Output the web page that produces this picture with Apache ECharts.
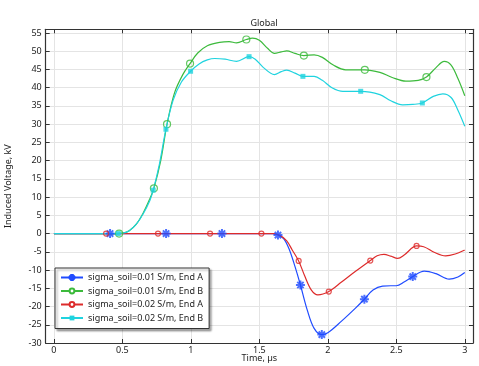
<!DOCTYPE html>
<html><head><meta charset="utf-8">
<script src="https://cdn.jsdelivr.net/npm/echarts@6/dist/echarts.min.js"></script>
<style>html,body{margin:0;padding:0;background:#fff}#c{width:479px;height:366px}</style>
</head><body><div id="c"></div>
<script>
// ---- data ----
const seriesNames = ['sigma_soil=0.01 S/m, End A','sigma_soil=0.01 S/m, End B','sigma_soil=0.02 S/m, End A','sigma_soil=0.02 S/m, End B'];
const xTickStep = 0.5;
const yTickStep = 5;

const curveA001 = [[0,0],[1.6,0],[1.636,-0.4],[1.68,-1.5],[1.72,-4.5],[1.76,-9],[1.8,-14.1],[1.85,-21],[1.9,-26],[1.956,-27.7],[2.0,-27.2],[2.1,-24],[2.2,-20.5],[2.267,-18.0],[2.33,-15.5],[2.4,-14.4],[2.46,-14.3],[2.5,-14.3],[2.56,-13.2],[2.62,-11.8],[2.704,-10.3],[2.79,-11],[2.886,-12.5],[2.95,-11.9],[3.0,-10.7]];
const curveB001 = [[0,0],[0.45,0],[0.5,0.1],[0.55,0.8],[0.6,2.5],[0.65,5.5],[0.7,9.5],[0.73,12.4],[0.78,20],[0.826,30],[0.88,38.5],[0.94,43.5],[0.994,46.6],[1.05,49.5],[1.12,51.5],[1.21,52.4],[1.28,52.6],[1.333,52.3],[1.405,53.2],[1.45,53.6],[1.5,53],[1.56,50.8],[1.61,49.4],[1.66,49.8],[1.7,50.1],[1.76,49.4],[1.825,48.8],[1.9,49.0],[1.96,48.3],[2.04,46.2],[2.13,44.9],[2.27,44.9],[2.38,44.2],[2.47,42.8],[2.57,41.8],[2.66,42],[2.72,42.9],[2.79,45.5],[2.85,47.2],[2.9,46.2],[2.95,42.5],[3.0,37.8]];
const curveA002 = [[0,0],[1.6,0],[1.65,-0.5],[1.7,-2],[1.74,-4.5],[1.787,-7.5],[1.83,-11.5],[1.88,-15.5],[1.927,-16.8],[2.007,-15.9],[2.1,-13.3],[2.2,-10.4],[2.31,-7.4],[2.36,-6.1],[2.41,-5.7],[2.46,-6.2],[2.51,-6.8],[2.56,-5.8],[2.648,-3.4],[2.7,-3.6],[2.78,-5.2],[2.86,-6.1],[2.93,-5.6],[3.0,-4.5]];
const curveB002 = [[0,0],[0.45,0],[0.5,0.1],[0.55,0.8],[0.6,2.5],[0.65,5.3],[0.7,9.0],[0.725,11.9],[0.77,19],[0.818,28.6],[0.87,36.5],[0.93,41.5],[0.998,44.5],[1.06,46.5],[1.12,47.6],[1.175,48.0],[1.25,47.8],[1.333,47.2],[1.425,48.5],[1.47,47.8],[1.53,45.5],[1.61,43.6],[1.66,44.4],[1.7,44.8],[1.76,44],[1.818,43.1],[1.9,43.1],[1.96,42],[2.03,40],[2.11,39.0],[2.24,39.0],[2.38,38.1],[2.46,36.4],[2.546,35.3],[2.62,35.4],[2.69,35.8],[2.77,37.6],[2.84,38.3],[2.9,37.3],[2.95,33.8],[3.0,29.4]];

const markA001 = [[0.41,0],[0.819,0],[1.227,0],[1.636,-0.4],[1.8,-14.1],[1.956,-27.7],[2.267,-18.0],[2.62,-11.8]];
const markB001 = [[0.476,0],[0.73,12.4],[0.826,30],[0.994,46.6],[1.405,53.2],[1.825,48.8],[2.27,44.9],[2.72,42.9]];
const markA002 = [[0.381,0],[0.76,0],[1.14,0],[1.515,0],[1.787,-7.5],[2.007,-15.9],[2.31,-7.4],[2.648,-3.4]];
const markB002 = [[0.47,0],[0.725,11.9],[0.818,28.6],[0.998,44.5],[1.425,48.5],[1.818,43.1],[2.24,39.0],[2.69,35.8]];

// ---- style ----
const colors = ['#1f4bff','#3cba3c','#dd2b2b','#1fd3df'];
const star = 'path://M-2.2,-10L2.2,-10L2.2,10L-2.2,10Z M-10,-2.2L10,-2.2L10,2.2L-10,2.2Z M-8.6,-5.5L-5.5,-8.6L8.6,5.5L5.5,8.6Z M5.5,-8.6L8.6,-5.5L-5.5,8.6L-8.6,5.5Z';
const curves = [curveA001, curveB001, curveA002, curveB002];
const marks = [markA001, markB001, markA002, markB002];
const symbols = [star, 'emptyCircle', 'emptyCircle', 'rect'];
const symSizes = [9, 7, 5, 5];
const FONT = 'Noto Sans';

const chart = echarts.init(document.getElementById('c'), null, {renderer:'canvas'});
const series = [];
curves.forEach((d,i)=>{
  series.push({
    name: seriesNames[i], type:'line', data:d, smooth:0.35, showSymbol:false,
    symbol: symbols[i], symbolSize: symSizes[i],
    lineStyle:{color:colors[i], width:1.2},
    itemStyle:{color:colors[i], borderColor:colors[i], borderWidth: i===3?0:1.1},
    xAxisIndex:0, yAxisIndex:0, animation:false, z:2+i
  });
});
marks.forEach((d,i)=>{
  const hollow = (i===1||i===2);
  series.push({
    type:'scatter', data:d, symbol: hollow?'circle':symbols[i], symbolSize: symSizes[i],
    itemStyle: hollow ? {color:'rgba(255,255,255,0)', borderColor:colors[i], borderWidth:1.2} : {color:colors[i]},
    xAxisIndex:0, yAxisIndex:0, animation:false, z:10+i, silent:true
  });
});

const axisLabelStyle = {color:'#222', fontFamily:FONT, fontSize:9};
const frameLine = {show:true, onZero:false, lineStyle:{color:'#333', width:1.2}};
const tick = {show:true, inside:true, length:4, lineStyle:{color:'#333'}};
chart.setOption({
  animation:false,
  title:{text:'Global', left:259, textAlign:'center', top:14, textStyle:{fontFamily:FONT, fontSize:9, fontWeight:'normal', color:'#222'}},
  grid:{left:45.7, right:6, top:29.3, bottom:23, containLabel:false, outerBoundsMode:'none'},
  legend:{
    data: seriesNames, orient:'vertical', left:55, top:268,
    backgroundColor:'#fff', borderColor:'#333', borderWidth:1, borderRadius:0,
    padding:[5,6,6,5], itemGap:4.5, itemWidth:22, itemHeight:6,
    shadowColor:'rgba(0,0,0,0.35)', shadowBlur:2, shadowOffsetX:2, shadowOffsetY:2,
    textStyle:{fontFamily:FONT, fontSize:9, color:'#222'}
  },
  xAxis:[
    {type:'value', min:-0.06, max:3.06, minInterval:xTickStep, maxInterval:xTickStep, position:'bottom',
     name:'Time, µs', nameLocation:'middle', nameGap:11, nameMoveOverlap:false, nameTextStyle:{fontFamily:FONT, fontSize:9, color:'#222'},
     axisLine:frameLine, axisTick:tick,
     axisLabel:{show:true, margin:3, showMinLabel:false, showMaxLabel:false, ...axisLabelStyle},
     splitLine:{show:true, lineStyle:{color:'#e4e4e4', width:1}}},
    {type:'value', min:-0.06, max:3.06, minInterval:xTickStep, maxInterval:xTickStep, position:'top',
     axisLine:frameLine, axisTick:tick, axisLabel:{show:false}, splitLine:{show:false}}
  ],
  yAxis:[
    {type:'value', min:-30, max:56, interval:yTickStep, position:'left',
     name:'Induced Voltage, kV', nameLocation:'middle', nameGap:33, nameTextStyle:{fontFamily:FONT, fontSize:9, color:'#222'},
     axisLine:frameLine, axisTick:tick,
     axisLabel:{show:true, margin:4, showMaxLabel:false, ...axisLabelStyle},
     splitLine:{show:true, lineStyle:{color:'#e4e4e4', width:1}}},
    {type:'value', min:-30, max:56, interval:yTickStep, position:'right',
     axisLine:frameLine, axisTick:tick, axisLabel:{show:false}, splitLine:{show:false}}
  ],
  series: series
});
</script></body></html>
